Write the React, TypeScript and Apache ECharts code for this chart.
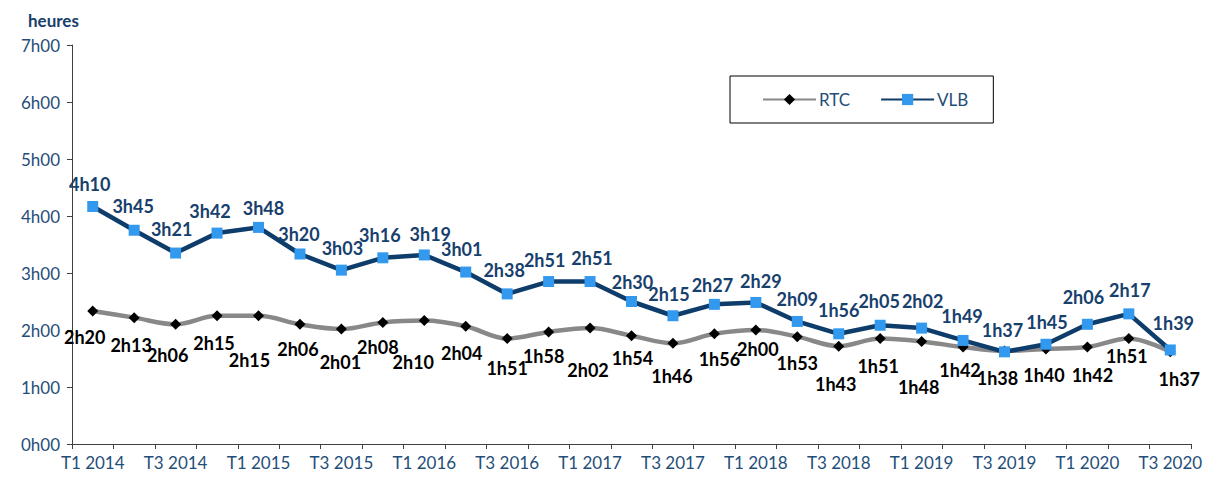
import React, { useEffect, useRef } from "react";
import * as echarts from "echarts";

const categories = [
  "T1 2014", "T2 2014", "T3 2014", "T4 2014",
  "T1 2015", "T2 2015", "T3 2015", "T4 2015",
  "T1 2016", "T2 2016", "T3 2016", "T4 2016",
  "T1 2017", "T2 2017", "T3 2017", "T4 2017",
  "T1 2018", "T2 2018", "T3 2018", "T4 2018",
  "T1 2019", "T2 2019", "T3 2019", "T4 2019",
  "T1 2020", "T2 2020", "T3 2020",
];

// durations in minutes
const rtcMinutes = [
  140, 133, 126, 135, 135, 126, 121, 128, 130, 124, 111, 118, 122, 114, 106,
  116, 120, 113, 103, 111, 108, 102, 98, 100, 102, 111, 97,
];
const vlbMinutes = [
  250, 225, 201, 222, 228, 200, 183, 196, 199, 181, 158, 171, 171, 150, 135,
  147, 149, 129, 116, 125, 122, 109, 97, 105, 126, 137, 99,
];

const yTicks = [0, 60, 120, 180, 240, 300, 360, 420];

// label placement tweaks (dx, dy) mimicking the original layout
const rtcLabelShift = [
  [-8, 2], [-3, 4], [-8, 7], [-3, 4], [-9, 21], [-2, 1], [-1, 9], [-5, 1],
  [-11, 18], [-4, 3], [0, 6], [-5, 1], [-2, 18], [1, -1], [-1, 9], [5, 2],
  [2, -5], [0, 3], [-3, 14], [-2, 4], [-3, 22], [-3, -1], [-7, 4], [-2, 2],
  [5, 4], [-2, -6], [9, 4],
];
const vlbLabelShift = [
  [-3, 0], [-1, -2], [-4, -2], [-7, 0], [5, 3], [-1, 2], [1, 0], [-3, 0],
  [6, 2], [-4, -1], [-3, -1], [-4, 1], [2, -1], [1, 3], [-4, 1], [-2, 3],
  [5, 1], [0, 0], [0, -1], [-1, -2], [1, -5], [-1, -2], [-2, 1], [1, 0],
  [-4, -5], [1, -1], [3, -4],
];

const fmt = (m: number) => {
  const h = Math.floor(m / 60);
  const mm = m % 60;
  return `${h}h${mm < 10 ? "0" + mm : mm}`;
};

const FONT = "Lato";
const NAVY = "#1f4e79";

export default function App() {
  const ref = useRef<HTMLDivElement>(null);
  useEffect(() => {
    if (!ref.current) return;
    const chart = echarts.init(ref.current, undefined, { renderer: "svg" });
    chart.setOption({
      animation: false,
      backgroundColor: "#ffffff",
      textStyle: { fontFamily: FONT },
      grid: { left: 72, right: 15, top: 45, bottom: 35, containLabel: false },
      graphic: [
        {
          type: "text",
          left: 28,
          top: 12,
          style: {
            text: "heures",
            fill: "#17406d",
            font: `bold 17px ${FONT}`,
          },
        },
      ],
      legend: {
        left: 730,
        top: 76,
        orient: "horizontal",
        padding: [15, 25, 15, 32],
        itemGap: 30,
        itemWidth: 53,
        itemHeight: 14,
        borderColor: "#000",
        borderWidth: 1,
        textStyle: { color: NAVY, fontSize: 17, fontFamily: FONT, padding: [0, 0, 0, -2] },
        data: ["RTC", "VLB"],
      },
      xAxis: {
        type: "category",
        data: categories,
        boundaryGap: true,
        axisLine: { lineStyle: { color: "#404040", width: 1 } },
        axisTick: { show: true, interval: 0, length: 5, lineStyle: { color: "#404040" } },
        axisLabel: {
          interval: 1,
          color: NAVY,
          fontSize: 17,
          fontFamily: FONT,
          margin: 10,
        },
      },
      yAxis: {
        type: "value",
        min: yTicks[0],
        max: yTicks[yTicks.length - 1],
        interval: 60,
        splitLine: { show: false },
        axisLine: { show: true, lineStyle: { color: "#404040", width: 1 } },
        axisTick: { show: true, length: 5, lineStyle: { color: "#404040" } },
        axisLabel: {
          color: NAVY,
          fontSize: 17,
          fontFamily: FONT,
          margin: 12,
          formatter: (v: number) => `${v / 60}h00`,
        },
      },
      series: [
        {
          name: "RTC",
          type: "line",
          smooth: 0.35,
          data: rtcMinutes.map((v, i) => ({
            value: v,
            label: { offset: rtcLabelShift[i] },
          })),
          symbol: "diamond",
          symbolSize: 11,
          itemStyle: { color: "#000000" },
          lineStyle: { color: "#888888", width: 4.5 },
          label: {
            show: true,
            position: "bottom",
            distance: 9,
            color: "#000",
            fontWeight: "bold",
            fontSize: 18,
            fontFamily: FONT,
            formatter: (p: any) => fmt(p.value),
          },
          z: 2,
        },
        {
          name: "VLB",
          type: "line",
          data: vlbMinutes.map((v, i) => ({
            value: v,
            label: { offset: vlbLabelShift[i] },
          })),
          symbol: "rect",
          symbolSize: 11,
          itemStyle: { color: "#3399ee" },
          lineStyle: { color: "#0f3d6b", width: 4.5 },
          label: {
            show: true,
            position: "top",
            distance: 8,
            color: "#17406d",
            fontWeight: "bold",
            fontSize: 18,
            fontFamily: FONT,
            formatter: (p: any) => fmt(p.value),
          },
          z: 3,
        },
      ],
    });
    return () => chart.dispose();
  }, []);
  return (
    <div
      ref={ref}
      style={{ position: "fixed", left: 0, top: 0, width: 1206, height: 479 }}
    />
  );
}
